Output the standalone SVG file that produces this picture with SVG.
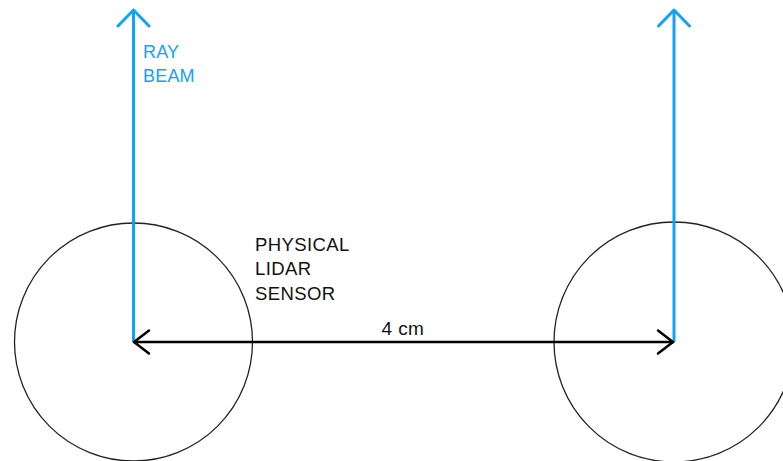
<svg xmlns="http://www.w3.org/2000/svg" width="783" height="461" viewBox="0 0 783 461">
  <style>
    .sensor { fill: none; stroke: #222; stroke-width: 1.3; }
    .ray { fill: none; stroke: #12a3f8; stroke-width: 3; stroke-linecap: round; stroke-linejoin: round; }
    .dim { fill: none; stroke: #000; stroke-width: 2.5; stroke-linecap: round; stroke-linejoin: round; }
    .label { font-family: "Liberation Sans", Arial, sans-serif; font-size: 18px; }
    .ray-label { fill: #12a3f8; letter-spacing: 0.2px; }
    .dark-label { fill: #111; font-size: 18.5px; letter-spacing: 0.4px; }
  </style>
  <rect width="783" height="461" fill="#fff"/>

  <g id="sensor-left">
    <circle class="sensor" cx="133.5" cy="342" r="119"/>
  </g>
  <g id="sensor-right">
    <circle class="sensor" cx="674" cy="342" r="120"/>
  </g>

  <g id="connectors">
    <!-- ray beams -->
    <path class="ray" d="M133.5 341 V10 M118 26 L133.5 10 L149 26"/>
    <path class="ray" d="M674 341 V10 M658.5 26 L674 10 L689.5 26"/>
    <!-- distance between sensors -->
    <path class="dim" d="M134 342 H673"/>
    <path class="dim" d="M149 330.5 L134 342 L149 353.5"/>
    <path class="dim" d="M658 330.5 L673 342 L658 353.5"/>
  </g>

  <g id="labels">
    <text class="label ray-label" x="143" y="58">RAY</text>
    <text class="label ray-label" x="143" y="82">BEAM</text>
    <text class="label dark-label" x="255" y="251">PHYSICAL</text>
    <text class="label dark-label" x="255" y="275">LIDAR</text>
    <text class="label dark-label" x="255" y="300">SENSOR</text>
    <text class="label dark-label" x="381.5" y="335" style="font-size:19px">4 cm</text>
  </g>
</svg>
